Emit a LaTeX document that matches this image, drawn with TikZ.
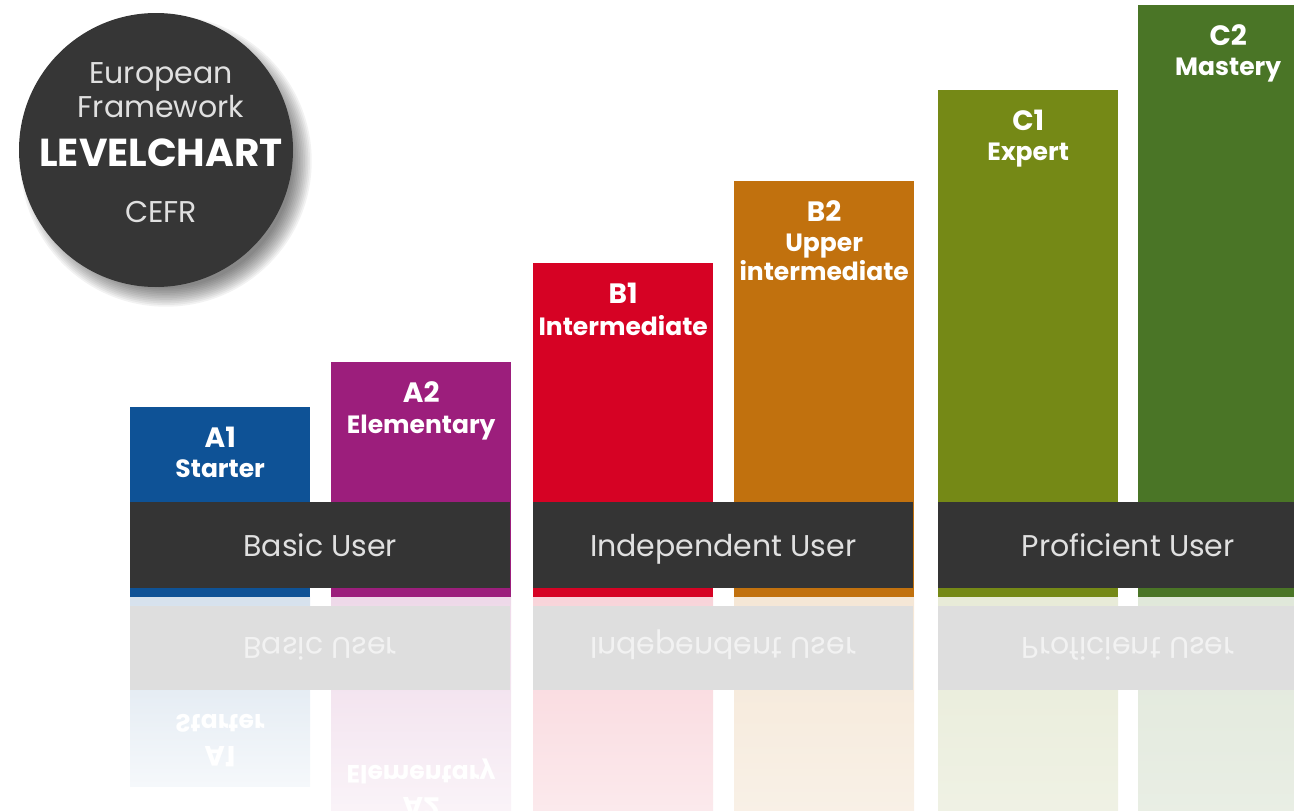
\documentclass[tikz,border=0pt]{standalone}
\usepackage{fontspec}
\setmainfont{Poppins}
\usetikzlibrary{positioning}

\definecolor{levelAone}{RGB}{14,82,150}
\definecolor{levelAtwo}{RGB}{156,30,124}
\definecolor{levelBone}{RGB}{214,2,36}
\definecolor{levelBtwo}{RGB}{193,113,14}
\definecolor{levelCone}{RGB}{117,137,22}
\definecolor{levelCtwo}{RGB}{74,117,38}
\definecolor{bandGray}{RGB}{52,52,52}
\definecolor{circleGray}{RGB}{54,54,54}
\definecolor{mirrorGray}{RGB}{222,222,222}

\begin{document}
\begin{tikzpicture}
[x=1pt,y=-1pt,
  barDecorate/.style={shape=rectangle,inner sep=0pt,minimum width=180pt,anchor=south west},
  bandDecorate/.style={shape=rectangle,fill=bandGray,inner sep=0pt,minimum height=86pt,
    minimum width=380pt,anchor=north west,text=white!88!black,text height=22pt,text depth=0pt,
    font=\fontsize{30}{30}\selectfont},
  levelDecorate/.style={inner sep=0pt,text=white,font=\bfseries\fontsize{28}{28}\selectfont},
  nameDecorate/.style={inner sep=0pt,text=white,align=center,font=\bfseries\fontsize{25}{29}\selectfont},
  mirrorDecorate/.style={inner sep=0pt,text=white,align=center},
  titleDecorate/.style={inner sep=0pt,text=white!88!black,font=\fontsize{30}{30}\selectfont}]
\useasboundingbox (0,0) rectangle (1294,811);
\clip (0,0) rectangle (1294,811);

%% title disc with soft shadow
\foreach \s in {0,...,11}
{
  \fill[black,opacity=0.05] (166,161) circle[radius=127+\s*1.7];
}
\node (chart) at (156,150) [shape=circle,fill=circleGray,inner sep=0pt,minimum size=274pt] {};
\node (europe) at (161,77) [titleDecorate] {European};
\node (frame) at (161,107) [titleDecorate] {Framework};
\node (levelchart) at (161,153) [titleDecorate,text=white,font=\bfseries\fontsize{39}{39}\selectfont] {LEVELCHART};
\node (cefr) at (161,212) [titleDecorate] {CEFR};

%% reflection of the bars
\foreach \x/\top/\col in {130/407/levelAone, 331/362/levelAtwo, 533/263/levelBone,
  734/181/levelBtwo, 938/90/levelCone, 1138/5/levelCtwo}
{
  \shade[top color=\col!17,bottom color=\col!4] (\x,597) rectangle (\x+180,1193-\top);
}
%% reflection of the bands
\foreach \bandname/\x/\txt in {basic/130/Basic User, indep/533/Independent User, prof/938/Proficient User}
{
  \node (\bandname-mirror) at (\x,606) [bandDecorate,fill=mirrorGray,minimum height=84pt,
    text=white!95!black,text height=0pt,text depth=22pt] {\scalebox{1}[-1]{\txt}};
}
\node (a1-mirror) at (220,723) [mirrorDecorate,font=\bfseries\fontsize{25}{25}\selectfont] {\scalebox{1}[-1]{Starter}};
\node (a1-mirrorlvl) at (220,757) [mirrorDecorate,font=\bfseries\fontsize{28}{28}\selectfont] {\scalebox{1}[-1]{A1}};
\node (a2-mirror) at (421,771) [mirrorDecorate,font=\bfseries\fontsize{25}{25}\selectfont] {\scalebox{1}[-1]{Elementary}};
\node (a2-mirrorlvl) at (421,808) [mirrorDecorate,font=\bfseries\fontsize{28}{28}\selectfont] {\scalebox{1}[-1]{A2}};

%% bars
\foreach \barname/\x/\h/\col in {a1/130/190/levelAone, a2/331/235/levelAtwo, b1/533/334/levelBone,
  b2/734/416/levelBtwo, c1/938/507/levelCone, c2/1138/592/levelCtwo}
{
  \node (\barname) at (\x,597) [barDecorate,fill=\col,minimum height=\h pt] {};
}
%% labels of the bars
\foreach \barname/\level/\desc in {a1/A1/Starter, a2/A2/Elementary, b1/B1/Intermediate,
  b2/B2/{Upper\\intermediate}, c1/C1/Expert, c2/C2/Mastery}
{
  \node (\barname-lvl) [levelDecorate,below=20pt of \barname.north] {\level};
  \node (\barname-txt) [nameDecorate,below=12pt of \barname-lvl] {\desc};
}

%% user bands
\foreach \bandname/\x/\txt in {basic/130/Basic User, indep/533/Independent User, prof/938/Proficient User}
{
  \node (\bandname) at (\x,502) [bandDecorate] {\txt};
}
\end{tikzpicture}
\end{document}
